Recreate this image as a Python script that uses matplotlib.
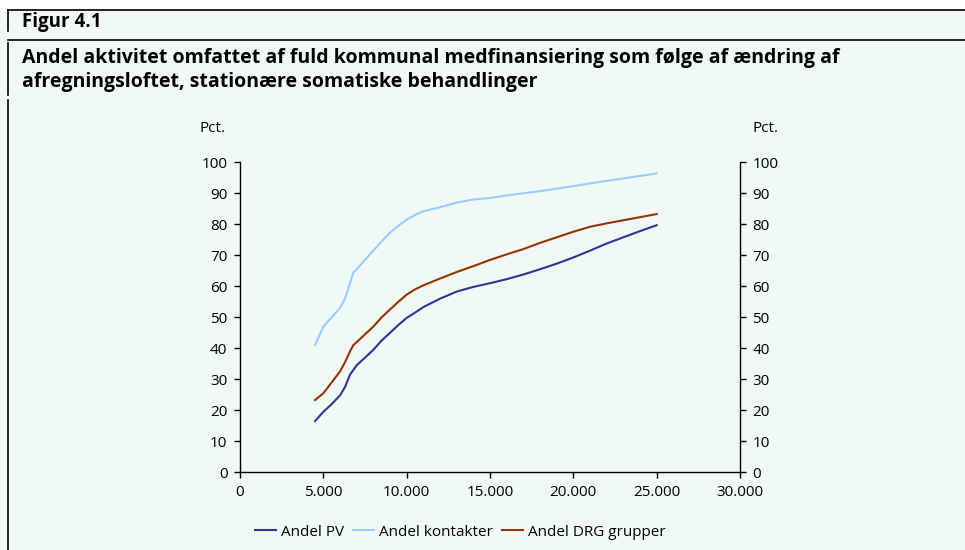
import matplotlib
matplotlib.use('Agg')
import matplotlib.pyplot as plt
from matplotlib.lines import Line2D
from matplotlib.patches import Rectangle
from matplotlib.ticker import FuncFormatter

# afregningsloft (kr.)
loft = [4500, 5000, 5500, 6000, 6300, 6600, 6800, 7000, 7500, 8000,
        8500, 9000, 9500, 10000, 10500, 11000, 12000, 13000, 14000, 15000,
        16000, 17000, 18000, 19000, 20000, 21000, 22000, 23000, 24000, 25000]

andel_pv = [16.5, 19.5, 22.0, 24.8, 27.5, 31.5, 33.0, 34.5, 37.0, 39.5,
            42.5, 45.0, 47.5, 49.8, 51.5, 53.3, 56.0, 58.3, 59.8, 61.0,
            62.3, 63.8, 65.5, 67.3, 69.3, 71.5, 73.8, 75.8, 77.8, 79.7]

andel_kontakter = [41.0, 47.0, 50.0, 53.0, 56.0, 61.0, 64.4, 65.5, 68.5, 71.5,
                   74.5, 77.3, 79.5, 81.5, 83.0, 84.2, 85.5, 87.0, 88.0, 88.5,
                   89.3, 90.0, 90.7, 91.5, 92.3, 93.2, 94.0, 94.8, 95.6, 96.4]

andel_drg = [23.3, 25.5, 29.0, 32.5, 35.5, 39.0, 41.0, 42.0, 44.5, 47.0,
             50.0, 52.5, 55.0, 57.3, 59.0, 60.3, 62.5, 64.6, 66.5, 68.5,
             70.3, 72.0, 74.0, 75.8, 77.6, 79.2, 80.3, 81.3, 82.3, 83.3]

series_labels = ['Andel PV', 'Andel kontakter', 'Andel DRG grupper']
series_colors = ['#333399', '#99CCFF', '#993300']

fig_title = 'Figur 4.1'
fig_subtitle = ('Andel aktivitet omfattet af fuld kommunal medfinansiering som følge af ændring af\n'
                'afregningsloftet, stationære somatiske behandlinger')

BG = '#F1F9F6'
W, H = 965, 550

plt.rcParams['font.family'] = ['Open Sans', 'DejaVu Sans']

fig = plt.figure(figsize=(W / 100, H / 100), dpi=100, facecolor=BG)

# white strip above the header rule
fig.patches.append(Rectangle((0, 1 - 10 / H), 1, 10 / H, transform=fig.transFigure,
                             facecolor='white', edgecolor='none', zorder=0))

def px(x, y):
    return x / W, 1 - y / H

# header rules and left bar
for y in (10, 40):
    fig.add_artist(Line2D([8 / W, 1], [1 - y / H] * 2, color='black', lw=1.2))
for y0, y1 in ((10, 31), (43, 95), (100, 550)):
    fig.add_artist(Line2D([8 / W] * 2, [1 - y0 / H, 1 - y1 / H], color='black', lw=1.2))

fig.text(*px(22, 22), fig_title, fontsize=13.5, fontweight='bold', va='center', ha='left')
fig.text(*px(22, 70), fig_subtitle, fontsize=14, fontweight='bold', va='center', ha='left',
         linespacing=1.25)

ax = fig.add_axes([240 / W, 1 - 472.3 / H, 500 / W, 310 / H])
ax.set_facecolor(BG)

for vals, lab, col in zip([andel_pv, andel_kontakter, andel_drg], series_labels, series_colors):
    ax.plot(loft, vals, color=col, lw=1.5, label=lab)

ax.set_xlim(0, 30000)
ax.set_ylim(0, 100)
ax.set_xticks(range(0, 30001, 5000))
ax.set_yticks(range(0, 101, 10))
ax.xaxis.set_major_formatter(FuncFormatter(lambda v, p: '{:,}'.format(int(v)).replace(',', '.')))

ax.spines['top'].set_visible(False)
for s in ('left', 'right', 'bottom'):
    ax.spines[s].set_linewidth(1.0)

ax.tick_params(axis='both', direction='out', length=4, width=1, labelsize=11, pad=5)
ax.tick_params(axis='y', right=True, labelright=True)

ax.text(-0.055, 1.11, 'Pct.', transform=ax.transAxes, fontsize=11, ha='center', va='center')
ax.text(1.05, 1.11, 'Pct.', transform=ax.transAxes, fontsize=11, ha='center', va='center')

fig.legend(loc='center', bbox_to_anchor=(460 / W, 1 - 532 / H), ncol=3, frameon=False,
           fontsize=11, handlelength=1.4, handletextpad=0.3, columnspacing=0.6)

plt.savefig('out.png', dpi=100, facecolor=BG)
plt.close()
